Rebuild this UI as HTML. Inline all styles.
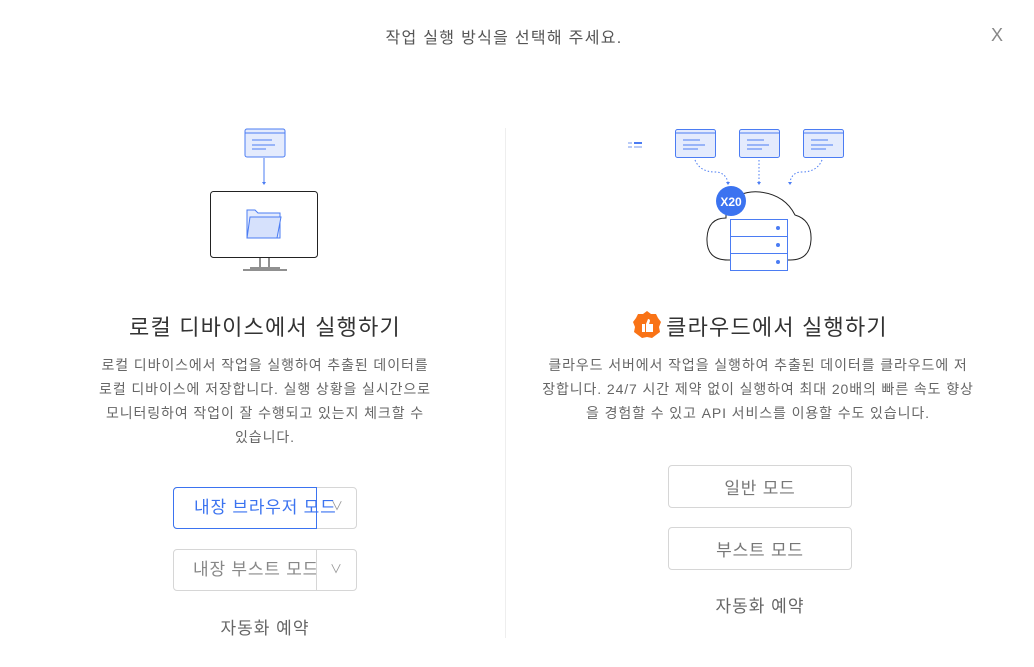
<!DOCTYPE html>
<html><head><meta charset="utf-8"><style>
*{box-sizing:border-box;margin:0;padding:0}
body{width:1034px;height:667px;background:#fff;font-family:"Liberation Sans","Noto Sans CJK KR",sans-serif;position:relative;overflow:hidden;color:#333}
.a{position:absolute}
.t{font-size:16px;letter-spacing:1.3px;color:#555;top:24px;left:0;width:1008px;text-align:center}
.h{font-size:22px;letter-spacing:1.2px;color:#333;text-align:center;white-space:nowrap}
.p{font-size:14px;letter-spacing:0.9px;color:#666;text-align:center;line-height:24px;white-space:nowrap}
.btn{position:absolute;border:1px solid #d6d6d6;border-radius:4px;font-size:17px;letter-spacing:0.8px;color:#777;display:flex;align-items:center;justify-content:center;background:#fff}
.s{font-size:17px;letter-spacing:1px;color:#666;text-align:center}
</style></head><body>
<div class="a t">작업 실행 방식을 선택해 주세요.</div>
<div class="a" style="left:991px;top:25px;font-size:18px;color:#888">X</div>
<div class="a" style="left:505px;top:128px;width:1px;height:510px;background:#eee"></div>

<svg class="a" style="left:200px;top:120px" width="130" height="160">
<rect x="45" y="9" width="40" height="28" rx="2" fill="#e4ebfd" stroke="#4b7cf3"/>
<line x1="45" y1="13" x2="85" y2="13" stroke="#4b7cf3"/>
<line x1="52" y1="20" x2="72" y2="20" stroke="#4b7cf3"/><line x1="52" y1="25" x2="75" y2="25" stroke="#4b7cf3"/><line x1="52" y1="29" x2="66" y2="29" stroke="#4b7cf3"/>
<line x1="64" y1="38" x2="64" y2="62" stroke="#4b7cf3"/><path d="M62 62 L66 62 L64 65z" fill="#4b7cf3"/>
<rect x="10.5" y="71.5" width="107" height="66" rx="3" fill="#fff" stroke="#222"/>
<path d="M60 138 V147 M69 138 V147 M43 150 H87 M50 148 H80" stroke="#222" fill="none"/>
<path d="M47 90 H55 L58 93 H80 V118 H47z" fill="#e4ebfd" stroke="#4b7cf3"/>
<path d="M50 97 H81 L77 118 H47z" fill="#d6e1fc" stroke="#4b7cf3"/>
</svg>

<div class="a h" style="left:0;width:530px;top:310px">로컬 디바이스에서 실행하기</div>
<div class="a p" style="left:65px;width:400px;top:353px">로컬 디바이스에서 작업을 실행하여 추출된 데이터를<br>로컬 디바이스에 저장합니다. 실행 상황을 실시간으로<br>모니터링하여 작업이 잘 수행되고 있는지 체크할 수<br>있습니다.</div>

<div class="btn" style="left:173px;top:487px;width:184px;height:42px"></div>
<div class="a" style="left:173px;top:487px;width:144px;height:42px;border:1px solid #3b73f0;border-radius:4px 0 0 4px;color:#3b73f0;font-size:17px;letter-spacing:0.8px;line-height:40px;padding-left:20px;white-space:nowrap;overflow:visible">내장 브라우저 모드</div>
<div class="a" style="left:331px;top:497px;color:#999;font-size:12px">∨</div>
<div class="btn" style="left:173px;top:549px;width:184px;height:42px"></div>
<div class="a" style="left:173px;top:549px;width:144px;height:42px;border-right:1px solid #d6d6d6;color:#888;font-size:17px;letter-spacing:0.8px;line-height:42px;padding-left:20px;white-space:nowrap;overflow:hidden">내장 부스트 모드</div>
<div class="a" style="left:330px;top:560px;color:#999;font-size:12px">∨</div>
<div class="a s" style="left:165px;width:200px;top:614px">자동화 예약</div>

<svg class="a" style="left:620px;top:120px" width="240" height="160">
<g fill="#b9cbf7"><rect x="8" y="22" width="4" height="2"/><rect x="14" y="22" width="8" height="2" fill="#4b7cf3"/><rect x="8" y="26" width="4" height="2"/><rect x="14" y="26" width="8" height="2"/></g>
<g id="w"><rect x="55.5" y="9.5" width="40" height="28" rx="2" fill="#e4ebfd" stroke="#4b7cf3"/><line x1="55" y1="13" x2="96" y2="13" stroke="#4b7cf3"/><line x1="63" y1="20" x2="80" y2="20" stroke="#4b7cf3"/><line x1="63" y1="25" x2="85" y2="25" stroke="#4b7cf3"/><line x1="63" y1="29" x2="78" y2="29" stroke="#4b7cf3"/></g>
<use href="#w" x="64"/><use href="#w" x="128"/>
<path d="M75 40 Q80 52 95 52 Q105 52 108 62" stroke="#4b7cf3" fill="none" stroke-dasharray="1.5 2"/>
<path d="M139 40 V62" stroke="#4b7cf3" fill="none" stroke-dasharray="1.5 2"/>
<path d="M202 40 Q197 52 182 52 Q172 52 170 62" stroke="#4b7cf3" fill="none" stroke-dasharray="1.5 2"/>
<g fill="#4b7cf3"><path d="M106 62 L110 62 L108 65z"/><path d="M137 62 L141 62 L139 65z"/><path d="M168 62 L172 62 L170 65z"/></g>
<path d="M106 85 Q120 70 140 72 Q165 75 175 95 Q192 100 191 120 Q190 140 170 140 L108 140 Q86 140 87 118 Q88 98 106 98z" fill="#fff" stroke="#222"/>
<circle cx="111" cy="81" r="15" fill="#3b73f0"/>
<text x="111" y="86" font-size="12" font-weight="bold" fill="#fff" text-anchor="middle" font-family="Liberation Sans">X20</text>
<g stroke="#4b7cf3" fill="#fff"><rect x="110.5" y="99.5" width="57" height="17"/><rect x="110.5" y="116.5" width="57" height="17"/><rect x="110.5" y="133.5" width="57" height="17"/></g>
<g fill="#4b7cf3"><circle cx="158" cy="108" r="2"/><circle cx="158" cy="125" r="2"/><circle cx="158" cy="142" r="2"/></g>
</svg>

<div class="a h" style="left:560px;width:400px;top:310px"><span style="display:inline-block;width:30px;height:30px;vertical-align:-5px;margin-right:4px"><svg width="30" height="30" viewBox="0 0 30 30"><polygon points="15,1 19,4 24,4 26,8 29,12 27,17 28,22 24,25 20,28 15,27 10,28 6,25 2,22 3,17 1,12 4,8 6,4 11,4" fill="#f97316"/><path d="M10 14 H13 V22 H10z M14 14 L16 9 Q18 9 18 11 L17 14 H21 V22 H14z" fill="#fff"/></svg></span>클라우드에서 실행하기</div>
<div class="a p" style="left:508px;width:500px;top:353px">클라우드 서버에서 작업을 실행하여 추출된 데이터를 클라우드에 저<br>장합니다. 24/7 시간 제약 없이 실행하여 최대 20배의 빠른 속도 향상<br>을 경험할 수 있고 API 서비스를 이용할 수도 있습니다.</div>
<div class="btn" style="left:668px;top:465px;width:184px;height:43px">일반 모드</div>
<div class="btn" style="left:668px;top:527px;width:184px;height:43px">부스트 모드</div>
<div class="a s" style="left:660px;width:200px;top:592px">자동화 예약</div>
</body></html>
